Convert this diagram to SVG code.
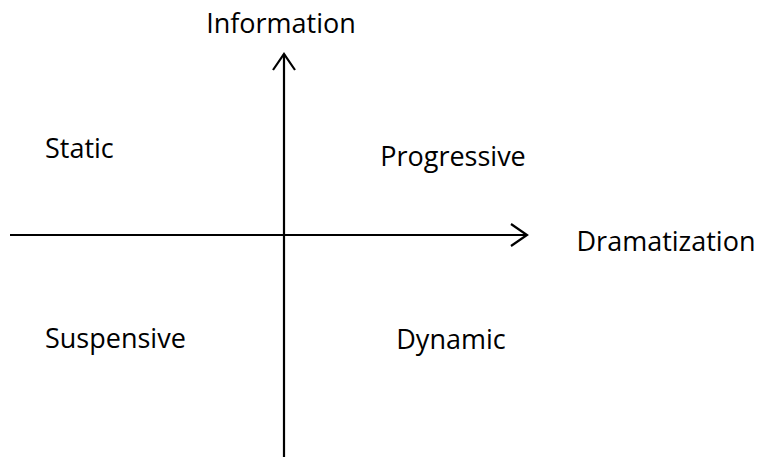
<svg xmlns="http://www.w3.org/2000/svg" width="760" height="457" viewBox="0 0 760 457">
  <style>
    .lbl { font-family: "Open Sans", "Noto Sans", sans-serif; font-size: 27px; fill: #000; }
    .axis { stroke: #000; stroke-width: 2.2; fill: none; }
  </style>
  <rect width="760" height="457" fill="#fff"/>
  <g id="connectors">
    <!-- vertical axis: Information -->
    <line class="axis" x1="284" y1="457" x2="284" y2="54"/>
    <polyline class="axis" points="273,70 284,54 295,70"/>
    <!-- horizontal axis: Dramatization -->
    <line class="axis" x1="10" y1="235" x2="527" y2="235"/>
    <polyline class="axis" points="511,224 527,235 511,246"/>
  </g>
  <g id="information"><text class="lbl" x="281" y="33" text-anchor="middle">Information</text></g>
  <g id="dramatization"><text class="lbl" x="666" y="251" text-anchor="middle">Dramatization</text></g>
  <g id="static"><text class="lbl" x="45" y="158">Static</text></g>
  <g id="progressive"><text class="lbl" x="453" y="166" text-anchor="middle">Progressive</text></g>
  <g id="suspensive"><text class="lbl" x="45" y="348">Suspensive</text></g>
  <g id="dynamic"><text class="lbl" x="451" y="349" text-anchor="middle">Dynamic</text></g>
</svg>
